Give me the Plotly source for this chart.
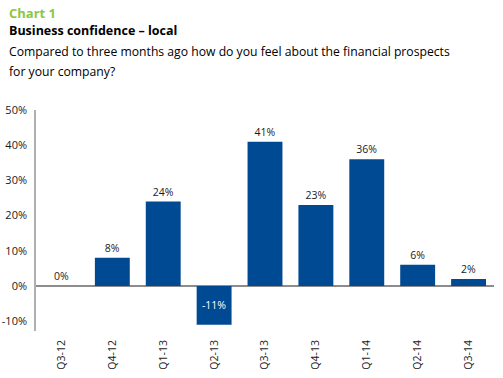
import plotly.graph_objects as go

categories = ["Q3-12", "Q4-12", "Q1-13", "Q2-13", "Q3-13", "Q4-13", "Q1-14", "Q2-14", "Q3-14"]
values = [0, 8, 24, -11, 41, 23, 36, 6, 2]
y_ticks = [50, 40, 30, 20, 10, 0, -10]
y_tick_labels = [f"{t}%" for t in y_ticks]

BAR = "#004A93"
FONT = "Open Sans"

text_pos = ["inside" if v < 0 else "outside" for v in values]
text_col = ["#ffffff" if v < 0 else "#1a1a1a" for v in values]

fig = go.Figure(go.Bar(
    x=categories, y=values,
    marker=dict(color=BAR, line=dict(width=0)),
    text=[f"{v}%" for v in values],
    textposition=text_pos,
    insidetextanchor="middle",
    textangle=0,
    textfont=dict(family=FONT, size=10.5, color=text_col),
    cliponaxis=False,
    width=0.686,
))

L, R, T, B = 36, 9, 110, 47
W, H = 503, 378
pw, ph = W - L - R, H - T - B

def px(x):
    return (x - L) / pw

def py(y):
    return (H - B - y) / ph

fig.update_layout(
    width=W, height=H,
    margin=dict(l=L, r=R, t=T, b=B, pad=0),
    paper_bgcolor="white", plot_bgcolor="white",
    showlegend=False,
    font=dict(family=FONT, size=10, color="#1a1a1a"),
    xaxis=dict(
        range=[-0.5, 8.5], type="category",
        tickangle=-90, tickfont=dict(size=10.5, color="#1a1a1a"),
        showgrid=False, showline=False, ticks="", ticklen=0,
        ticklabelstandoff=6,
        automargin=False,
    ),
    yaxis=dict(
        range=[-12.8, 50], tickvals=y_ticks, ticktext=y_tick_labels,
        showgrid=False, zeroline=True, zerolinecolor="#8c8c8c", zerolinewidth=1.5,
        showline=True, linecolor="#b0b0b0", linewidth=1.5,
        ticks="", tickfont=dict(size=11, color="#1a1a1a"),
        ticklabelstandoff=5,
        automargin=False,
    ),
    annotations=[
        dict(text="<b>Chart 1</b>", x=px(7), y=py(13), xref="paper", yref="paper",
             xanchor="left", yanchor="middle", showarrow=False,
             font=dict(family=FONT, size=13, color="#8DC63F")),
        dict(text="<b>Business confidence – local</b>", x=px(7), y=py(31), xref="paper", yref="paper",
             xanchor="left", yanchor="middle", showarrow=False,
             font=dict(family=FONT, size=12.5, color="#000000")),
        dict(text="Compared to three months ago how do you feel about the financial prospects",
             x=px(7), y=py(51), xref="paper", yref="paper",
             xanchor="left", yanchor="middle", showarrow=False,
             font=dict(family=FONT, size=12.2, color="#000000")),
        dict(text="for your company?",
             x=px(7), y=py(71), xref="paper", yref="paper",
             xanchor="left", yanchor="middle", showarrow=False,
             font=dict(family=FONT, size=12.2, color="#000000")),
    ],
)

fig.write_html("out.html", config={"displayModeBar": False},
               post_script="document.body.style.margin='0';")
